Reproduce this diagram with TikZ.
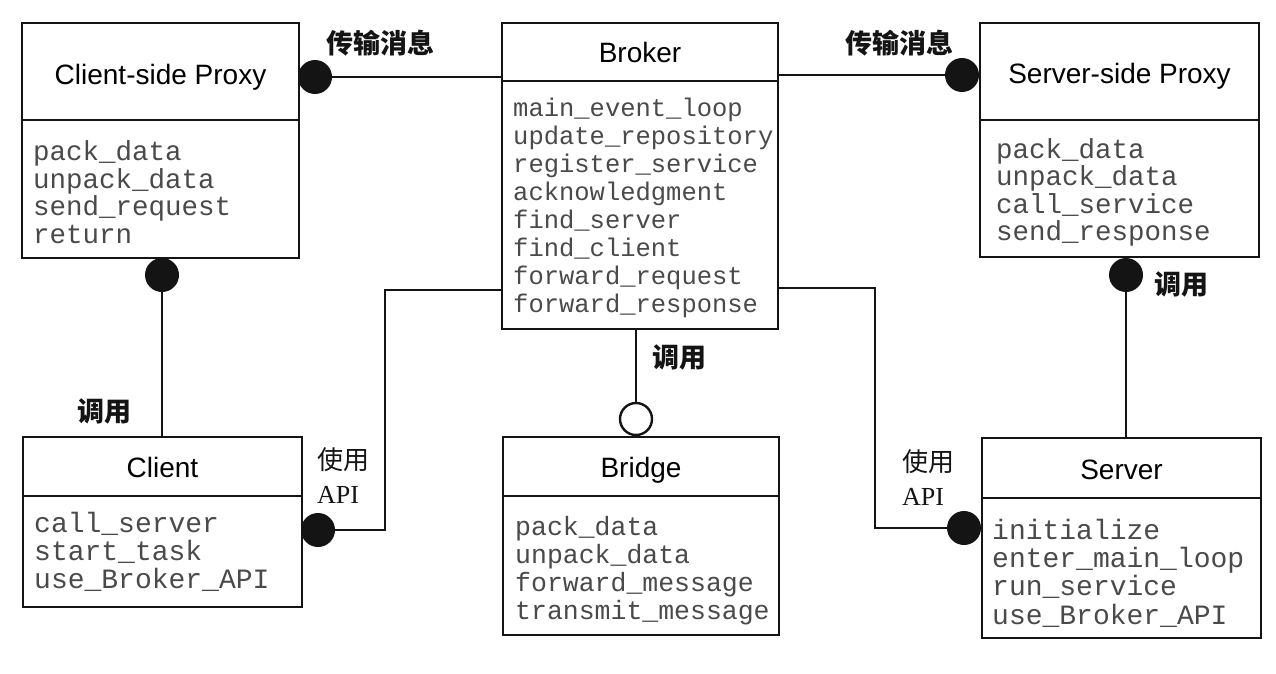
\documentclass[tikz,border=0pt]{standalone}
\usepackage{fontspec}
\setmainfont{Liberation Serif}
\setsansfont{Liberation Sans}
\newfontfamily\mono{Liberation Mono}
\newfontfamily\cjk{Noto Sans CJK SC}
\definecolor{linec}{HTML}{141414}
\definecolor{methc}{HTML}{4A4A4A}
\begin{document}
\begin{tikzpicture}[x=1pt,y=-1pt,
  ttl/.style={draw=linec, line width=2.8pt, font=\sffamily\fontsize{28}{32}\selectfont,
    anchor=north west, inner sep=0pt, outer sep=0pt, text height=22pt, text depth=0pt},
  bdy/.style={draw=linec, line width=2.8pt, anchor=north west, inner sep=0pt, outer sep=0pt},
  mth/.style={anchor=west, align=left, inner sep=0pt, text=methc},
  conn/.style={draw=linec, line width=2pt},
  fdot/.style={circle, fill=linec, minimum size=34pt, inner sep=0pt},
  odot/.style={circle, draw=linec, fill=white, line width=2.4pt, minimum size=32pt, inner sep=0pt},
  lbl/.style={font=\cjk\bfseries\fontsize{27}{30}\selectfont, inner sep=0pt, text=linec},
  lbltwo/.style={align=left, inner sep=0pt, font=\fontsize{26}{34}\selectfont, text=linec, anchor=north west}
]
\fill[white] (0,0) rectangle (1276,674);
\useasboundingbox (0,0) rectangle (1276,674);

% Client-side Proxy
\node[ttl, minimum width=277pt, minimum height=97pt, text height=26pt] (csptitle) at (22,23) {Client-side Proxy};
\node[bdy, minimum width=277pt, minimum height=138pt] (cspbody) at (csptitle.south west) {};
\node[mth, font=\mono\fontsize{27.5}{27.5}\selectfont] (cspm) at ([xshift=11pt, yshift=-3pt]cspbody.west)
  {pack\_data\\unpack\_data\\send\_request\\return};

% Broker
\node[ttl, minimum width=276pt, minimum height=58pt] (brokertitle) at (502,23) {Broker};
\node[bdy, minimum width=276pt, minimum height=248pt] (brokerbody) at (brokertitle.south west) {};
\node[mth, font=\mono\fontsize{25.5}{27.9}\selectfont] (brokerm) at ([xshift=11pt, yshift=-3pt]brokerbody.west)
  {main\_event\_loop\\update\_repository\\register\_service\\acknowledgment\\find\_server\\find\_client\\forward\_request\\forward\_response};

% Server-side Proxy
\node[ttl, minimum width=279pt, minimum height=97pt, text height=24pt] (ssptitle) at (980,23) {Server-side Proxy};
\node[bdy, minimum width=279pt, minimum height=137pt] (sspbody) at (ssptitle.south west) {};
\node[mth, font=\mono\fontsize{27.5}{27.5}\selectfont] (sspm) at ([xshift=16pt, yshift=-4pt]sspbody.west)
  {pack\_data\\unpack\_data\\call\_service\\send\_response};

% Client
\node[ttl, minimum width=279pt, minimum height=59pt] (clienttitle) at (23,437) {Client};
\node[bdy, minimum width=279pt, minimum height=111pt] (clientbody) at (clienttitle.south west) {};
\node[mth, font=\mono\fontsize{28}{28}\selectfont] (clientm) at ([xshift=11pt]clientbody.west)
  {call\_server\\start\_task\\use\_Broker\_API};

% Bridge
\node[ttl, minimum width=276pt, minimum height=59pt] (bridgetitle) at (503,437) {Bridge};
\node[bdy, minimum width=276pt, minimum height=139pt] (bridgebody) at (bridgetitle.south west) {};
\node[mth, font=\mono\fontsize{26.5}{28}\selectfont] (bridgem) at ([xshift=12pt, yshift=-5pt]bridgebody.west)
  {pack\_data\\unpack\_data\\forward\_message\\transmit\_message};

% Server
\node[ttl, minimum width=279pt, minimum height=60pt] (servertitle) at (982,438) {Server};
\node[bdy, minimum width=279pt, minimum height=140pt] (serverbody) at (servertitle.south west) {};
\node[mth, font=\mono\fontsize{28}{28.3}\selectfont] (serverm) at ([xshift=10pt, yshift=-5pt]serverbody.west)
  {initialize\\enter\_main\_loop\\run\_service\\use\_Broker\_API};

% connector ends
\node[fdot] (d1) at (315,77) {};
\node[fdot] (d2) at (962,75) {};
\node[fdot] (d3) at (162,275) {};
\node[fdot] (d4) at (1126,275) {};
\node[fdot] (d5) at (318,530) {};
\node[fdot] (d6) at (964,528) {};
\node[odot] (o1) at (636,419) {};
\coordinate (e1) at (385,290);
\coordinate (e2) at (875,288);

% connectors
\draw[conn] (d1.center) -- (d1.center -| brokertitle.west);
\draw[conn] (d2.center) -- (d2.center -| brokertitle.east);
\draw[conn] (d3.center) -- (d3.center |- clienttitle.north);
\draw[conn] (d4.center) -- (d4.center |- servertitle.north);
\draw[conn] (o1.north) -- (o1.north |- brokerbody.south);
\draw[conn] (e1 -| brokerbody.west) -- (e1) |- (d5.center);
\draw[conn] (e2 -| brokerbody.east) -- (e2) |- (d6.center);

% labels
\node[lbl] (l1) at (380,43) {传输消息};
\node[lbl] (l2) at (899,43) {传输消息};
\node[lbl] (l3) at (104,411) {调用};
\node[lbl] (l4) at (679,357) {调用};
\node[lbl] (l5) at (1181,284) {调用};
\node[lbltwo] (l6) at (317,447) {{\cjk 使用}\\API};
\node[lbltwo] (l7) at (902,449) {{\cjk 使用}\\API};
\end{tikzpicture}
\end{document}
